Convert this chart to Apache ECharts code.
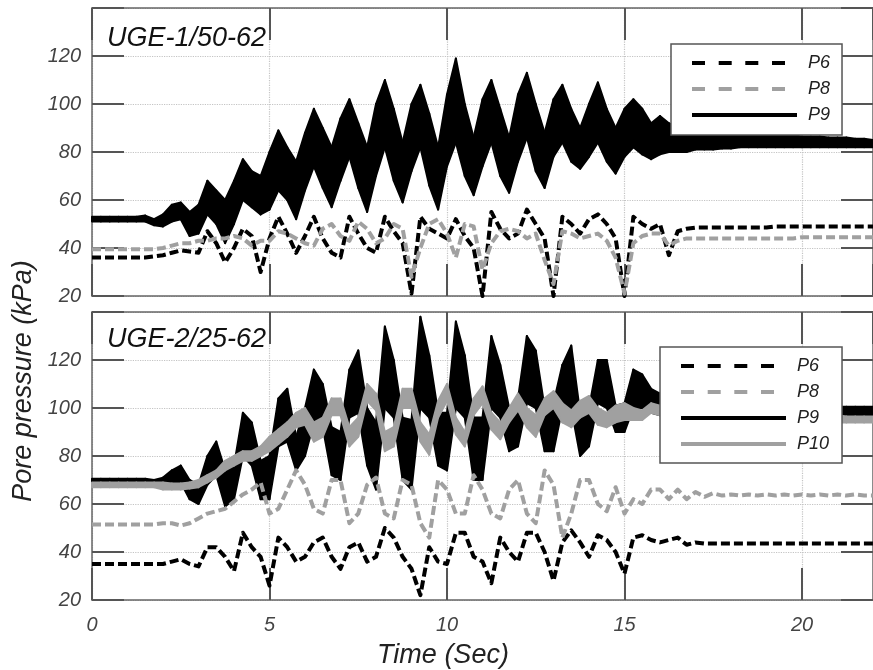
<!DOCTYPE html>
<html><head><meta charset="utf-8">
<script src="https://cdn.jsdelivr.net/npm/echarts@6/dist/echarts.min.js"></script>
<style>html,body{margin:0;padding:0;background:#fff}#c{width:873px;height:670px}</style>
</head><body><div id="c"></div>
<script>
// ---- sampling step (seconds) of the digitised records ----
const dt = 0.25;
const xTickLabels = [0, 5, 10, 15, 20];
const yTickLabels = [20, 40, 60, 80, 100, 120];
const panelTitles = ['UGE-1/50-62', 'UGE-2/25-62'];

// ---------- Panel 1 : UGE-1/50-62 ----------
const top_P6 = [
  36,36,36,36, 36,36,36,36.5, 37,38,39,38.5, 38,47,42,34, 40,48,45,30,
  44,53,46,38, 45,53,44,38, 36,53,46,40, 38,53,47,42, 21,53,48,46,
  44,52,45,40, 20,55,48,44, 46,56,50,44, 20,53,50,46, 52,54,50,44,
  20,53,50,48, 50,37,47,48, 48.5,48.5,48.5,48.5, 48.5,48.5,48.5,48.5, 48.5,49,49,49,
  49,49,49,49, 49,49,49,49, 49];
const top_P8 = [
  39.5,39.5,39.5,39.5, 39.5,39.5,39.5,39.5, 40,41,42,42, 43,43,44,44, 45,44,41,43,
  43,47,46,44, 42,41,48,50, 45,43,51,48, 42,44,50,48, 28,40,50,52,
  46,36,50,49, 31,42,47,48, 47,44,46,35, 25,47,46,44, 45,46,43,36,
  21,42,45,46, 46,41,43,44, 44,44,44,44, 44,44,44,44, 44,44,44,44,
  44.5,44.5,44.5,44.5, 44.5,44.5,44.5,44.5, 44.5];
const top_P9_hi = [
  53,53,53,53, 53,53,53.5,52, 54,58,59,55, 58,68,64,60, 68,77,72,70,
  80,89,82,76, 88,98,90,82, 94,102,92,82, 100,110,98,84, 100,108,96,82,
  104,119,100,86, 102,110,98,86, 104,113,100,88, 102,108,98,90, 100,109,98,90,
  98,102,98,92, 95,92,90,90, 89,88,88,88, 88,88,87,87, 87,87,87,87,
  86.5,86.5,86.5,86, 86,86,85.5,85.5, 85];
const top_P9_lo = [
  51,51,51,51, 51,51,51,49.5, 49,51,52,45, 46,54,50,42, 50,60,57,54,
  56,64,60,52, 64,74,65,57, 68,78,65,55, 70,82,68,59, 72,82,66,56,
  74,84,70,62, 74,84,70,63, 76,86,72,65, 78,84,76,73, 78,84,76,71,
  78,82,79,77, 79,80,80,80, 81,81,81,81.5, 81.5,82,82,82, 82,82,82,82,
  82,82,82,82, 82,82,82,82, 82];

// ---------- Panel 2 : UGE-2/25-62 ----------
const bot_P6 = [
  35,35,35,35, 35,35,35,35, 35,36,37,35, 34,42,42,38, 32,48,42,38,
  26,46,42,36, 38,44,46,38, 33,42,44,36, 38,50,46,38, 33,22,42,36,
  35,48,48,38, 36,27,46,40, 36,48,48,40, 28,44,49,44, 38,47,45,40,
  31,46,47,45, 44,45,46,43, 44,43.5,43.5,43.5, 43.5,43.5,43.5,43.5, 43.5,43.5,43.5,43.5,
  43.5,43.5,43.5,43.5, 43.5,43.5,43.5,43.5, 43.5];
const bot_P8 = [
  51.5,51.5,51.5,51.5, 51.5,51.5,51.5,51.5, 52,52,51,52, 54,56,57,58, 61,64,66,69,
  56,58,66,74, 68,58,56,70, 70,52,56,68, 71,56,54,70, 68,52,46,70,
  66,56,56,72, 66,56,54,66, 70,56,52,74, 68,46,56,70, 70,60,57,67,
  56,62,60,66, 66,62,66,62, 65,63,64.5,63.5, 64,63.5,64,63.5, 64,63.5,64,63.5,
  64,63.5,64,63.5, 64,63.5,64,63.5, 63.5];
const bot_P9_hi = [
  70.5,70.5,70.5,70.5, 70.5,70.5,70.5,70, 71,74,76,70, 68,80,86,74, 76,98,94,78,
  80,104,108,88, 100,116,110,92, 90,116,124,100, 94,134,120,96, 95,138,122,98,
  98,136,122,96, 96,130,118,100, 104,130,124,100, 102,118,126,98, 100,120,120,101,
  102,116,114,108, 106,105,104,103, 102,102,102,102, 101,101,101,101, 101,101,101,101,
  101,101,100.5,100.5, 100.5,100.5,100.5,100.5, 100.5];
const bot_P9_lo = [
  68.5,68.5,68.5,68.5, 68.5,68.5,68.5,68, 67,68,69,62, 60,68,72,59, 62,80,76,62,
  62,84,86,74, 80,94,92,72, 70,96,98,76, 66,100,96,70, 66,100,96,76,
  74,100,96,70, 70,100,96,82, 84,102,100,82, 82,100,100,80, 84,102,100,90,
  90,100,100,98, 97,97,97,97, 97,97,97,97, 97,97,97,97, 97,97,97,97,
  97,97,97,97, 97,97,97,97, 97];
const bot_P10_hi = [
  69,69,69,69, 69,69,69,69, 69,68.5,68.5,69, 70,72,74,78, 80,82,82,84,
  88,91,94,98, 100,94,96,104, 104,92,96,110, 106,90,92,108, 108,94,89,103,
  110,96,90,104, 109,98,94,100, 106,100,97,104, 107,102,99,103, 105,100,98,101,
  102,100,99,102, 101,100,100,99, 99,98.5,98.5,98, 98,98,98,97.5, 97.5,97.5,97.5,97,
  97,97,97,97, 97,96.5,96.5,96.5, 96.5];
const bot_P10_lo = [
  67,67,67,67, 67,67,67,67, 66,66,66,66.5, 67,69,71,74, 76,78,78,80,
  82,85,88,92, 93,86,88,97, 97,84,88,103, 99,82,84,100, 100,86,80.5,96,
  103,89,84,97, 102,91,87,94, 99,92,88,97, 100,94,92,96, 98,93,92,94,
  95,95,95,98, 97,96,96,95.5, 95.5,95,95,95, 94.5,94.5,94.5,94.5, 94.5,94,94,94,
  94,94,94,94, 94,94,94,94, 94];

const time = top_P6.map((_, i) => i * dt);

const FONT = '"Liberation Sans", Arial, Helvetica, sans-serif';
const BLACK = '#000000', GRAY = '#a0a0a0';
const AX = '#666666', TK = '#555555';

function pts(arr) { return arr.map((v, i) => [time[i], v]); }

function lineSeries(name, arr, color, xi, yi) {
  return {
    type: 'line', name, xAxisIndex: xi, yAxisIndex: yi,
    data: pts(arr), symbol: 'none', clip: true, animation: false,
    itemStyle: { color },
    lineStyle: { color, width: 4, type: [9, 4], join: 'round' }
  };
}
function bandSeries(name, hi, lo, color, xi, yi) {
  const n = time.length;
  return {
    type: 'custom', name, xAxisIndex: xi, yAxisIndex: yi, animation: false,
    itemStyle: { color },
    data: time.map((t, i) => [t, lo[i], hi[i]]),
    encode: { x: 0, y: [1, 2] },
    renderItem(params, api) {
      const i = params.dataIndex;
      if (i >= n - 1) return null;
      const p = [
        api.coord([time[i], hi[i]]), api.coord([time[i + 1], hi[i + 1]]),
        api.coord([time[i + 1], lo[i + 1]]), api.coord([time[i], lo[i]])
      ];
      return { type: 'polygon', shape: { points: p },
        style: { fill: color, stroke: color, lineWidth: 2, lineJoin: 'round' } };
    }
  };
}

const grids = [
  { left: 92, top: 8, width: 783, height: 288 },
  { left: 92, top: 312, width: 783, height: 288 }
];

const xAxes = [], yAxes = [];
grids.forEach((g, gi) => {
  const base = {
    gridIndex: gi, type: 'value', min: 0, max: 22, interval: 5,
    axisLine: { show: true, onZero: false, lineStyle: { color: AX, width: 1.5 } },
    axisTick: { show: true, inside: true, length: 32, lineStyle: { color: TK, width: 2 } }
  };
  xAxes.push(Object.assign({}, base, {
    position: 'bottom',
    axisLabel: { show: gi === 1, margin: 15, fontSize: 20, fontStyle: 'italic', fontFamily: FONT, color: '#444',
      showMaxLabel: false, formatter: v => (xTickLabels.indexOf(v) >= 0 ? String(v) : '') },
    splitLine: { show: true, lineStyle: { color: '#c4c4c4', type: 'dotted', width: 1.2 } }
  }));
  xAxes.push(Object.assign({}, base, {
    position: 'top', axisLabel: { show: false }, splitLine: { show: false }
  }));
  const ybase = {
    gridIndex: gi, type: 'value', min: 20, max: 140, interval: 20,
    axisLine: { show: true, onZero: false, lineStyle: { color: AX, width: 1.5 } },
    axisTick: { show: true, inside: true, length: 32, lineStyle: { color: TK, width: 2 } }
  };
  yAxes.push(Object.assign({}, ybase, {
    position: 'left',
    axisLabel: { show: true, margin: 11, fontSize: 20, fontStyle: 'italic', fontFamily: FONT, color: '#444',
      formatter: v => (yTickLabels.indexOf(v) >= 0 ? String(v) : '') },
    splitLine: { show: true, lineStyle: { color: '#c4c4c4', type: 'dotted', width: 1.2 } }
  }));
  yAxes.push(Object.assign({}, ybase, {
    position: 'right', axisLabel: { show: false }, splitLine: { show: false }
  }));
});

const series = [
  lineSeries('P6', top_P6, BLACK, 0, 0),
  lineSeries('P8', top_P8, GRAY, 0, 0),
  bandSeries('P9', top_P9_hi, top_P9_lo, BLACK, 0, 0),
  lineSeries('P6', bot_P6, BLACK, 2, 2),
  lineSeries('P8', bot_P8, GRAY, 2, 2),
  bandSeries('P9', bot_P9_hi, bot_P9_lo, BLACK, 2, 2),
  bandSeries('P10', bot_P10_hi, bot_P10_lo, GRAY, 2, 2)
];

const dashIcon = 'path://M0,0h13v4h-13zM26.7,0h13v4h-13zM53.3,0h13v4h-13zM80,0h13v4h-13zM105,0L105,4';
const solidIcon = 'path://M0,0h105v4h-105z';
function legendItem(name, dashed, color) {
  return { name, icon: dashed ? dashIcon : solidIcon, itemStyle: { color, borderWidth: 0 } };
}
const legendBase = {
  orient: 'vertical', selectedMode: false, itemWidth: 105, itemHeight: 4, itemGap: 6,
  backgroundColor: '#ffffff', borderColor: '#555', borderWidth: 1.5, borderRadius: 0,
  itemStyle: { borderWidth: 0 },
  textStyle: { fontSize: 18, fontStyle: 'italic', fontFamily: FONT, color: '#222', lineHeight: 20, padding: [0, 0, 0, 6] },
  z: 10
};

const option = {
  backgroundColor: '#ffffff',
  animation: false,
  grid: grids,
  xAxis: xAxes,
  yAxis: yAxes,
  legend: [
    Object.assign({}, legendBase, { left: 671, top: 44, padding: [9, 12, 10, 21],
      data: [legendItem('P6', true, BLACK), legendItem('P8', true, GRAY), legendItem('P9', false, BLACK)] }),
    Object.assign({}, legendBase, { left: 660, top: 347, padding: [9, 13, 9, 21],
      data: [legendItem('P6', true, BLACK), legendItem('P8', true, GRAY), legendItem('P9', false, BLACK), legendItem('P10', false, GRAY)] })
  ],
  graphic: [
    { type: 'text', x: 107, y: 38, z: 20,
      style: { text: panelTitles[0], font: 'italic 27px ' + FONT, fill: '#111', align: 'left', verticalAlign: 'middle' } },
    { type: 'text', x: 107, y: 339, z: 20,
      style: { text: panelTitles[1], font: 'italic 27px ' + FONT, fill: '#111', align: 'left', verticalAlign: 'middle' } },
    { type: 'text', x: 23, y: 381, rotation: Math.PI / 2, z: 20,
      style: { text: 'Pore pressure (kPa)', font: 'italic 27px ' + FONT, fill: '#222', align: 'center', verticalAlign: 'middle' } },
    { type: 'text', x: 443, y: 655, z: 20,
      style: { text: 'Time (Sec)', font: 'italic 27px ' + FONT, fill: '#222', align: 'center', verticalAlign: 'middle' } }
  ],
  series
};

const chart = echarts.init(document.getElementById('c'), null, { renderer: 'canvas' });
chart.setOption(option);
</script>
</body></html>
